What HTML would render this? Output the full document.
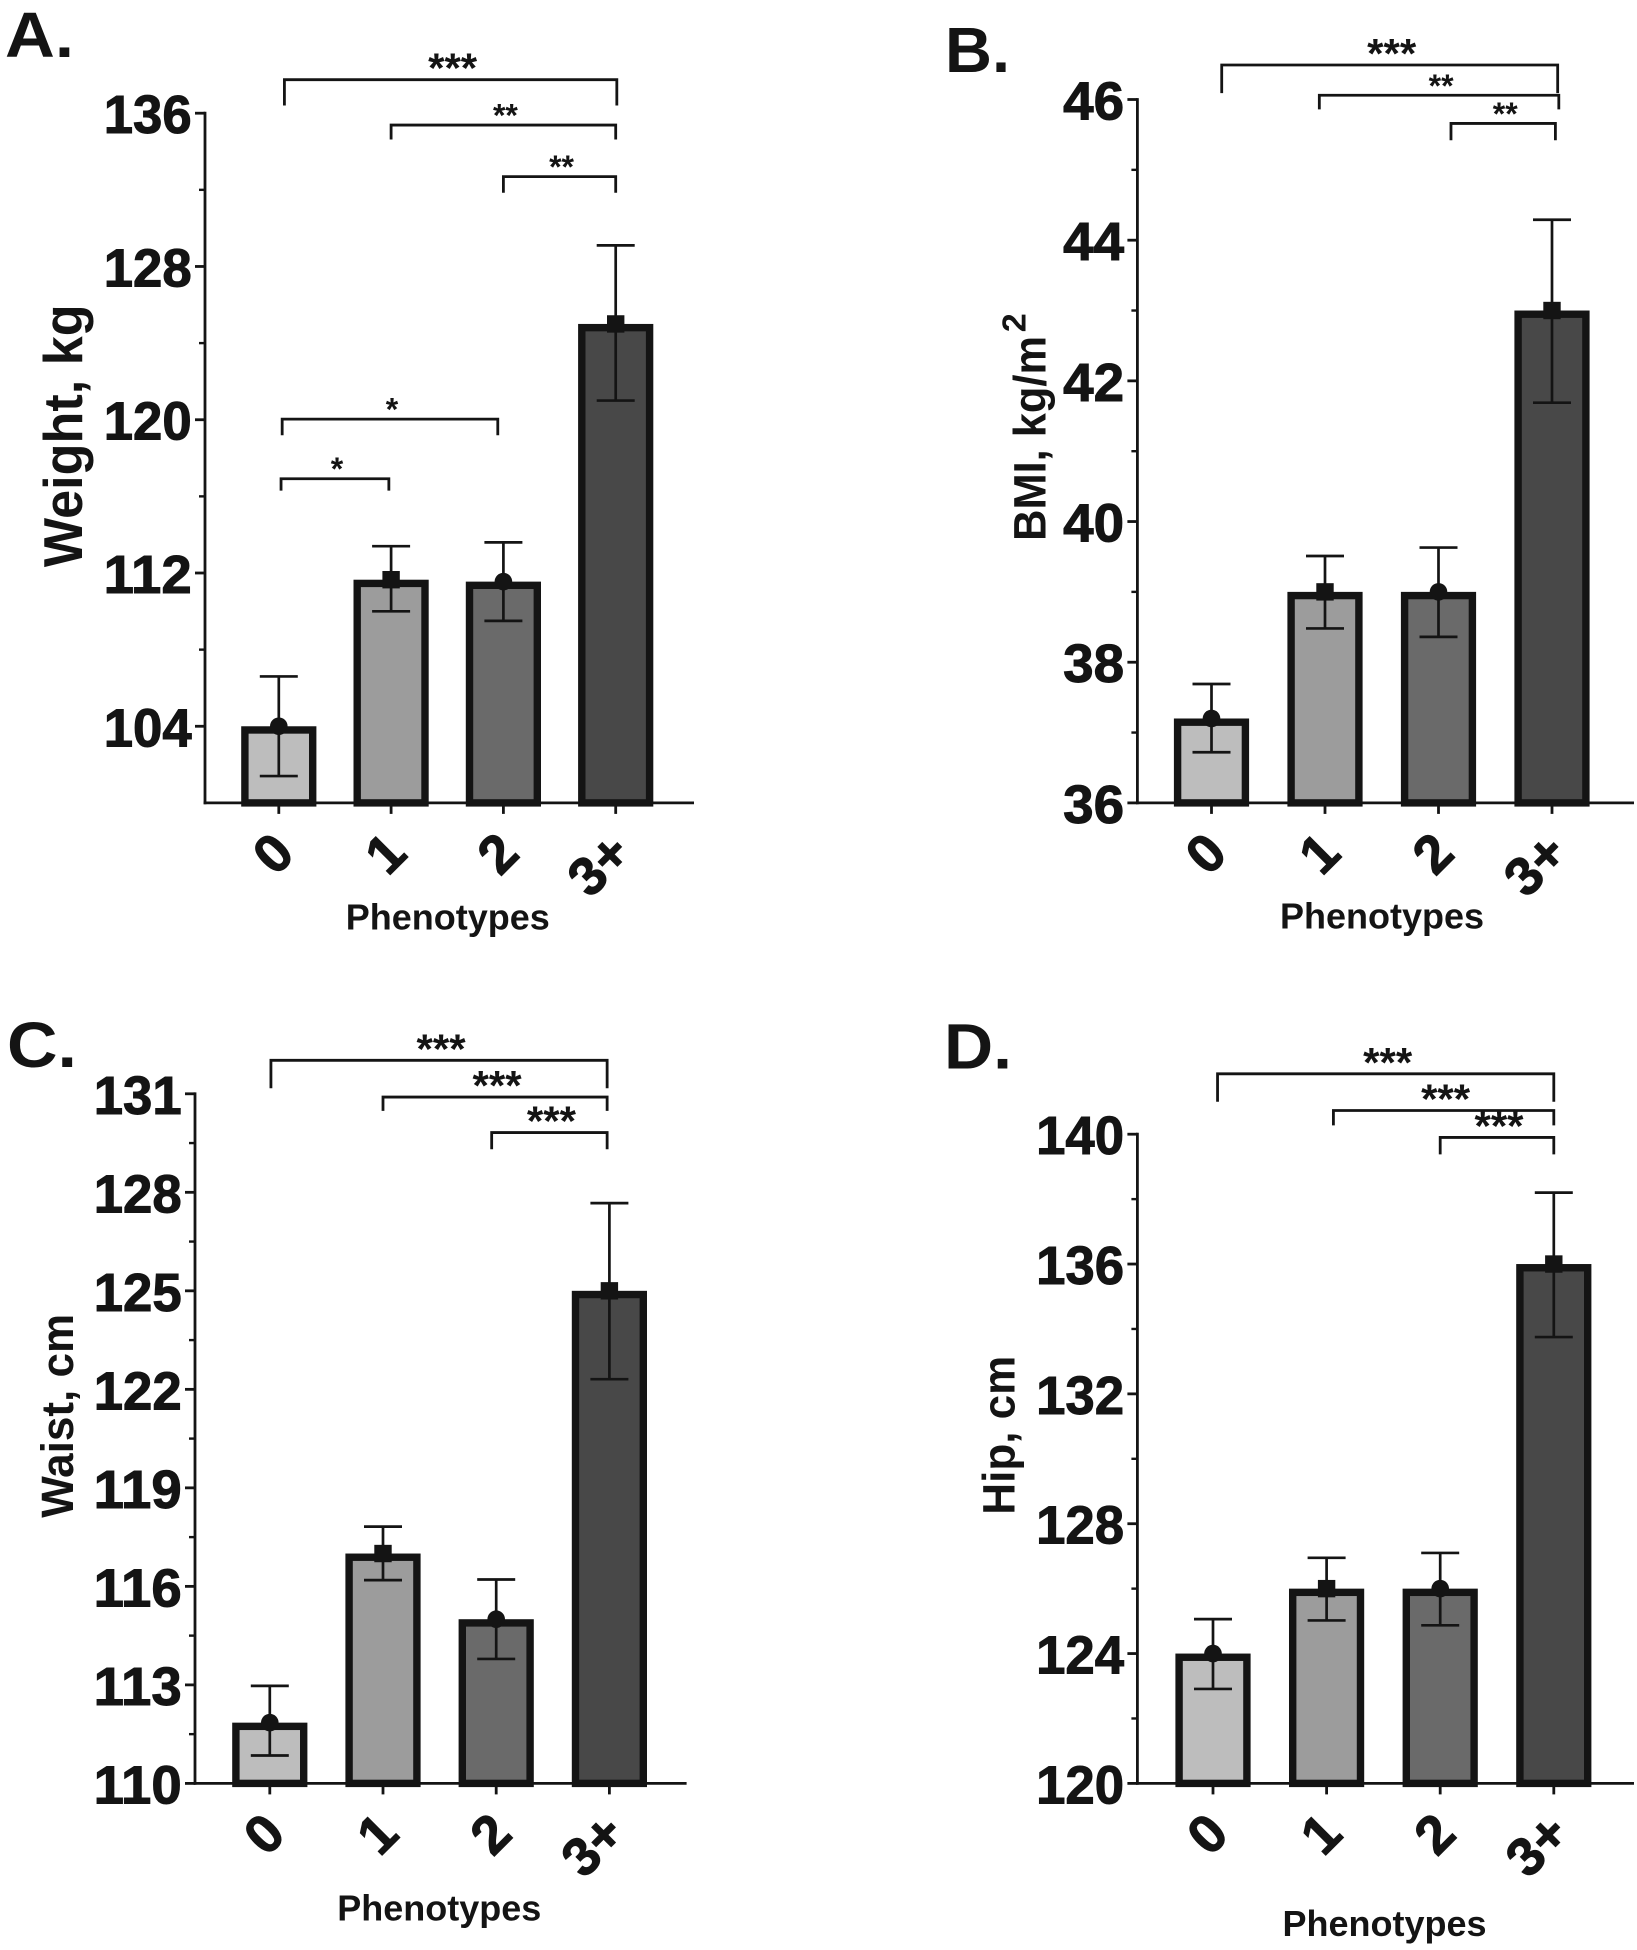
<!DOCTYPE html>
<html lang="en">
<head>
<meta charset="utf-8">
<title>Anthropometric measures by number of phenotypes</title>
<style>
  html, body { margin: 0; padding: 0; background: #fff; }
  svg { display: block; }
  text { font-family: "Liberation Sans", Arial, sans-serif; font-weight: bold; fill: #141414; }
</style>
</head>
<body>
<svg id="figure" xmlns="http://www.w3.org/2000/svg" width="1637" height="1950" viewBox="0 0 1637 1950"></svg>
<script>
const categories = ['0', '1', '2', '3+'];
const barFills = ['#bdbdbd', '#9c9c9c', '#6a6a6a', '#484848'];

const weightTicks = [104, 112, 120, 128, 136];
const weightMeans = [104, 111.65, 111.55, 125];
const weightUpper = [106.6, 113.4, 113.6, 129.1];
const weightLower = [101.4, 110, 109.5, 121];
const weightBrackets = [
  { from: 0.05, to: 3.01, level: 137.75, tip: 136.4, stars: '***' },
  { from: 1.0, to: 3.0, level: 135.38, tip: 134.63, stars: '**' },
  { from: 2.0, to: 3.0, level: 132.69, tip: 131.85, stars: '**' },
  { from: 0.03, to: 1.95, level: 120.03, tip: 119.19, stars: '*' },
  { from: 0.02, to: 0.98, level: 116.92, tip: 116.3, stars: '*' }
];

const bmiTicks = [36, 38, 40, 42, 44, 46];
const bmiMeans = [37.2, 39, 39, 43];
const bmiUpper = [37.69, 39.51, 39.63, 44.29];
const bmiLower = [36.72, 38.48, 38.36, 41.69];
const bmiBrackets = [
  { from: 0.09, to: 3.05, level: 46.49, tip: 46.09, stars: '***' },
  { from: 0.95, to: 3.06, level: 46.06, tip: 45.86, stars: '**' },
  { from: 2.11, to: 3.03, level: 45.66, tip: 45.42, stars: '**' }
];

const waistTicks = [110, 113, 116, 119, 122, 125, 128, 131];
const waistMeans = [111.85, 117, 115, 125];
const waistUpper = [112.97, 117.82, 116.21, 127.67];
const waistLower = [110.85, 116.19, 113.79, 122.31];
const waistBrackets = [
  { from: 0.01, to: 2.98, level: 132.02, tip: 131.17, stars: '***' },
  { from: 1.0, to: 2.98, level: 130.9, tip: 130.48, stars: '***' },
  { from: 1.96, to: 2.98, level: 129.82, tip: 129.31, stars: '***' }
];

const hipTicks = [120, 124, 128, 132, 136, 140];
const hipMeans = [124, 126, 126, 136];
const hipUpper = [125.06, 126.95, 127.1, 138.2];
const hipLower = [122.91, 125.02, 124.87, 133.75];
const hipBrackets = [
  { from: 0.04, to: 3.0, level: 141.86, tip: 141.0, stars: '***' },
  { from: 1.06, to: 3.0, level: 140.73, tip: 140.27, stars: '***' },
  { from: 2.0, to: 3.0, level: 139.9, tip: 139.38, stars: '***' }
];

const panelA = {
  key: 'weight', letter: 'A.', titleX: 5, titleY: 57.2, titleLen: 69,
  axisX: 205, plotTop: 113.2, plotBottom: 802.9, axisEnd: 694, x0: 278.8, xStep: 112.3, yMin: 100,
  ticks: weightTicks, means: weightMeans, upper: weightUpper, lower: weightLower, brackets: weightBrackets,
  yTitle: 'Weight, kg', yTitleX: 82, yTitleY: 435.8, yTitleLen: 262.7, yTitleSize: 55,
  xTitleX: 447.8, xTitleY: 929.3
};
const panelB = {
  key: 'bmi', letter: 'B.', titleX: 945, titleY: 72.1, titleLen: 65,
  axisX: 1137.4, plotTop: 99.5, plotBottom: 802.9, axisEnd: 1634, x0: 1211.5, xStep: 113.5, yMin: 36,
  ticks: bmiTicks, means: bmiMeans, upper: bmiUpper, lower: bmiLower, brackets: bmiBrackets,
  yTitle: 'BMI, kg/m', yTitleX: 1045.5, yTitleY: 438.4, yTitleLen: 205, yTitleSize: 45,
  superscript: '2', supX: 1025.6, supY: 332.3, supLen: 19, supSize: 33,
  xTitleX: 1382, xTitleY: 928.3
};
const panelC = {
  key: 'waist', letter: 'C.', titleX: 7, titleY: 1067, titleLen: 70,
  axisX: 195, plotTop: 1093.8, plotBottom: 1783.4, axisEnd: 686.6, x0: 269.8, xStep: 113.2, yMin: 110,
  ticks: waistTicks, means: waistMeans, upper: waistUpper, lower: waistLower, brackets: waistBrackets,
  yTitle: 'Waist, cm', yTitleX: 73.2, yTitleY: 1415.8, yTitleLen: 204, yTitleSize: 45,
  xTitleX: 439.3, xTitleY: 1920.3
};
const panelD = {
  key: 'hip', letter: 'D.', titleX: 944, titleY: 1068.3, titleLen: 68,
  axisX: 1137.4, plotTop: 1134.2, plotBottom: 1783.4, axisEnd: 1634, x0: 1213, xStep: 113.6, yMin: 120,
  ticks: hipTicks, means: hipMeans, upper: hipUpper, lower: hipLower, brackets: hipBrackets,
  yTitle: 'Hip, cm', yTitleX: 1014.5, yTitleY: 1435.2, yTitleLen: 159, yTitleSize: 45,
  xTitleX: 1384.5, xTitleY: 1935.8
};

const SVG_NS = 'http://www.w3.org/2000/svg';
const INK = '#141414';
const figure = document.getElementById('figure');

function make(parent, tag, attrs, content) {
  const node = document.createElementNS(SVG_NS, tag);
  for (const k in attrs) node.setAttribute(k, attrs[k]);
  if (content !== undefined) node.textContent = content;
  parent.appendChild(node);
  return node;
}

function drawPanel(p) {
  const yMax = p.ticks[p.ticks.length - 1];
  const y = v => p.plotBottom - (v - p.yMin) * (p.plotBottom - p.plotTop) / (yMax - p.yMin);
  const x = c => p.x0 + c * p.xStep;

  const panel = make(figure, 'g', {});
  
  

  const title = make(panel, 'text', { x: p.titleX, y: p.titleY, 'font-size': 64, textLength: p.titleLen, lengthAdjust: 'spacingAndGlyphs' }, p.letter);
  
  

  // bars
  p.means.forEach((m, i) => {
    const bar = make(panel, 'rect', {
      x: x(i) - 33.9, y: y(m) + 3.7, width: 67.8, height: Math.max(0, p.plotBottom - y(m) - 3.7),
      fill: barFills[i], stroke: INK, 'stroke-width': 7.4
    });
    
    
  });

  // error bars and markers
  p.means.forEach((m, i) => {
    const cx = x(i);
    const err = make(panel, 'path', {
      d: 'M' + (cx - 19) + ' ' + y(p.upper[i]) + 'H' + (cx + 19) +
         'M' + cx + ' ' + y(p.upper[i]) + 'V' + y(p.lower[i]) +
         'M' + (cx - 19) + ' ' + y(p.lower[i]) + 'H' + (cx + 19),
      fill: 'none', stroke: INK, 'stroke-width': 2.7
    });
    
    
    let marker;
    if (i % 2 === 0) {
      marker = make(panel, 'circle', { cx: cx, cy: y(m), r: 8.8, fill: INK });
    } else {
      marker = make(panel, 'rect', { x: cx - 8.7, y: y(m) - 8.7, width: 17.4, height: 17.4, fill: INK });
    }
    
    
  });

  // y axis
  const yAxis = make(panel, 'line', { x1: p.axisX, x2: p.axisX, y1: p.plotTop - 1.4, y2: p.plotBottom + 1.4, stroke: INK, 'stroke-width': 2.8 });
  
  

  const step = p.ticks[1] - p.ticks[0];
  p.ticks.forEach(t => {
    const tick = make(panel, 'line', { x1: p.axisX - 10, x2: p.axisX, y1: y(t), y2: y(t), stroke: INK, 'stroke-width': 2.8 });
    
    
    const digits = String(t).length;
    const label = make(panel, 'text', {
      x: p.axisX - 13.3, y: y(t) + 20, 'text-anchor': 'end', 'font-size': 54,
      textLength: digits === 3 ? 88 : 61, lengthAdjust: 'spacingAndGlyphs',
      stroke: INK, 'stroke-width': 1
    }, String(t));
    
    
    const minorValue = t - step / 2;
    if (minorValue > p.yMin) {
      const minor = make(panel, 'line', { x1: p.axisX - 6, x2: p.axisX, y1: y(minorValue), y2: y(minorValue), stroke: INK, 'stroke-width': 2.4 });
      
      
    }
  });

  // x axis
  const xAxis = make(panel, 'line', { x1: p.axisX - 1.4, x2: p.axisEnd, y1: p.plotBottom, y2: p.plotBottom, stroke: INK, 'stroke-width': 2.8 });
  
  

  categories.forEach((c, i) => {
    const tick = make(panel, 'line', { x1: x(i), x2: x(i), y1: p.plotBottom, y2: p.plotBottom + 11, stroke: INK, 'stroke-width': 2.8 });
    
    
    const label = make(panel, 'text', {
      transform: 'translate(' + (x(i) + 18) + ' ' + (p.plotBottom + 53) + ') rotate(-45)',
      'text-anchor': 'end', 'font-size': 54, stroke: INK, 'stroke-width': 1
    }, c);
    
    
  });

  // significance brackets
  p.brackets.forEach(b => {
    const left = x(b.from), right = x(b.to), top = y(b.level), tip = y(b.tip);
    const bracket = make(panel, 'path', {
      d: 'M' + left + ' ' + tip + 'V' + top + 'H' + right + 'V' + tip,
      fill: 'none', stroke: INK, 'stroke-width': 2.8
    });
    
    
    const big = b.stars.length === 3;
    const stars = make(panel, 'text', {
      x: (left + right) / 2 + 2, y: top + (big ? 3 : 1.5), 'text-anchor': 'middle', 'font-size': big ? 42 : 32
    }, b.stars);
    
    
  });

  // axis titles
  const yTitle = make(panel, 'text', {
    transform: 'translate(' + p.yTitleX + ' ' + p.yTitleY + ') rotate(-90)',
    'text-anchor': 'middle', 'font-size': p.yTitleSize, textLength: p.yTitleLen, lengthAdjust: 'spacingAndGlyphs'
  }, p.yTitle);
  
  

  if (p.superscript) {
    const sup = make(panel, 'text', {
      transform: 'translate(' + p.supX + ' ' + p.supY + ') rotate(-90)',
      'font-size': p.supSize, textLength: p.supLen, lengthAdjust: 'spacingAndGlyphs'
    }, p.superscript);
    
    
  }

  const xTitle = make(panel, 'text', {
    x: p.xTitleX, y: p.xTitleY, 'text-anchor': 'middle', 'font-size': 36, textLength: 204, lengthAdjust: 'spacingAndGlyphs'
  }, 'Phenotypes');
  
  
}

drawPanel(panelA);
drawPanel(panelB);
drawPanel(panelC);
drawPanel(panelD);
</script>
</body>
</html>
